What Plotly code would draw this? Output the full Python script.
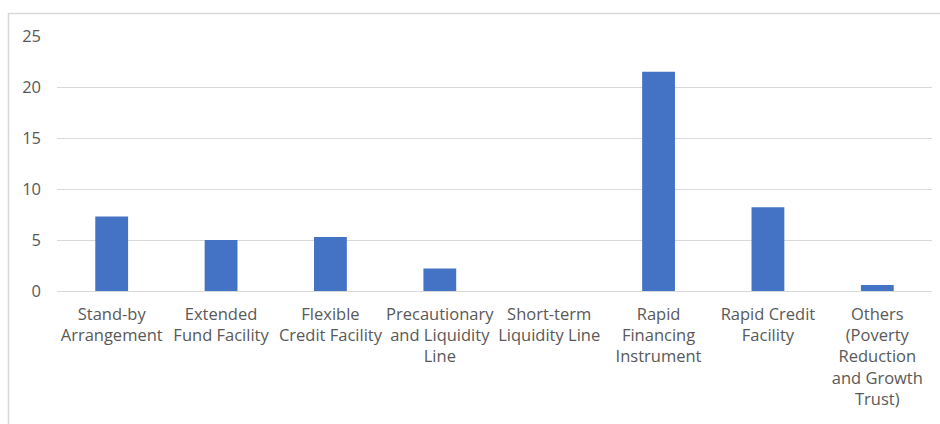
import plotly.graph_objects as go

categories = [
    "Stand-by<br>Arrangement",
    "Extended<br>Fund Facility",
    "Flexible<br>Credit Facility",
    "Precautionary<br>and Liquidity<br>Line",
    "Short-term<br>Liquidity Line",
    "Rapid<br>Financing<br>Instrument",
    "Rapid Credit<br>Facility",
    "Others<br>(Poverty<br>Reduction<br>and Growth<br>Trust)",
]
values = [7.3, 5.0, 5.3, 2.2, 0, 21.5, 8.2, 0.6]
y_ticks = [0, 5, 10, 15, 20, 25]

W, H = 940, 424
ml, mr, mt, mb = 57, 8, 36, 133
pw = W - ml - mr
ph = H - mt - mb

fig = go.Figure(
    go.Bar(
        x=categories,
        y=values,
        marker=dict(color="#4472C4", line=dict(width=0)),
    )
)

font = dict(family="Open Sans", size=16.5, color="#595959")

fig.update_layout(
    width=W,
    height=H,
    margin=dict(l=ml, r=mr, t=mt, b=mb),
    paper_bgcolor="white",
    plot_bgcolor="white",
    bargap=0.7,
    showlegend=False,
    font=font,
    xaxis=dict(
        showgrid=False,
        showline=False,
        zeroline=False,
        ticks="",
        tickfont=font,
        tickangle=0,
        ticklabelstandoff=11,
    ),
    yaxis=dict(
        range=[0, 25],
        tickvals=y_ticks,
        ticktext=[str(v) for v in y_ticks],
        showgrid=True,
        gridcolor="#d9d9d9",
        gridwidth=1,
        zeroline=True,
        zerolinecolor="#d9d9d9",
        zerolinewidth=1,
        showline=False,
        ticks="",
        tickfont=font,
        ticklabelstandoff=15,
    ),
)

# outer chart border (Excel-style chart area frame, cropped at right/bottom)
x0 = (8.5 - ml) / pw
y1 = (H - mb - 13.5) / ph
fig.add_shape(
    type="rect",
    xref="paper", yref="paper",
    x0=x0, x1=1.2, y0=-1.0, y1=y1,
    line=dict(color="#d9d9d9", width=1.5),
    fillcolor="rgba(0,0,0,0)",
    layer="below",
)

fig.write_html("out.html")
